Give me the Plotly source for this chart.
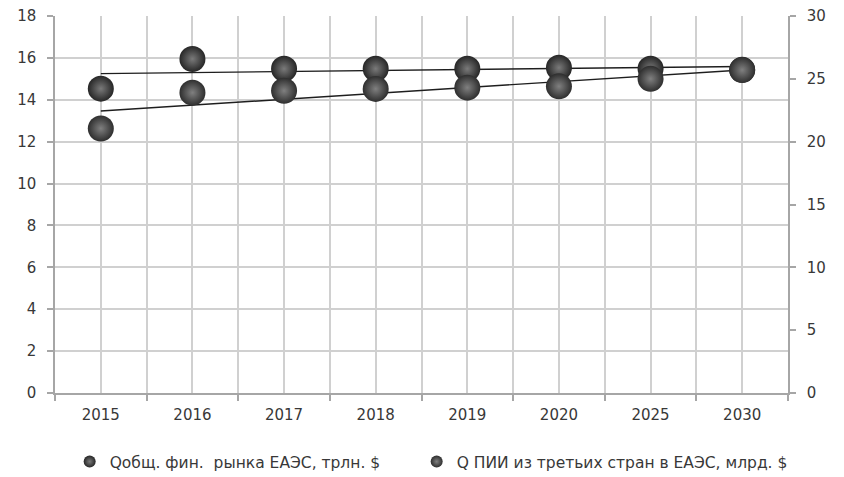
import numpy as np
import plotly.graph_objects as go

# Categories (years)
years = ["2015", "2016", "2017", "2018", "2019", "2020", "2025", "2030"]

# Q общ. фин. рынка ЕАЭС, трлн. $ (left axis)
fin_market = [14.53, 15.95, 15.48, 15.48, 15.48, 15.53, 15.48, 15.43]

# Q ПИИ из третьих стран в ЕАЭС, млрд. $ (right axis)
fdi = [21.05, 23.9, 24.05, 24.2, 24.3, 24.4, 25.0, 25.7]

name_fin = "Qобщ. фин.\u00a0\u00a0рынка ЕАЭС, трлн. $"
name_fdi = "Q ПИИ из третьих стран в ЕАЭС, млрд. $"

x = np.arange(len(years))

# linear trend for each series
def trend(vals):
    k, b = np.polyfit(x, np.asarray(vals, dtype=float), 1)
    return k * x + b

text_color = "#383838"
grid_color = "#d0d0d0"
axis_color = "#a6a6a6"
font_family = "'DejaVu Sans', sans-serif"

fig = go.Figure()

fig.add_trace(go.Scatter(
    x=x, y=trend(fin_market), mode="lines", showlegend=False, hoverinfo="skip",
    line=dict(color="#1e1e1e", width=1.4), yaxis="y",
))
fig.add_trace(go.Scatter(
    x=x, y=trend(fdi), mode="lines", showlegend=False, hoverinfo="skip",
    line=dict(color="#1e1e1e", width=1.4), yaxis="y2",
))

fig.add_trace(go.Scatter(
    x=x, y=fin_market, mode="markers", name=name_fin, yaxis="y", legend="legend",
    marker=dict(size=26, color="#262626",
                gradient=dict(type="radial", color="#7a7a7a"),
                line=dict(width=0)),
))
fig.add_trace(go.Scatter(
    x=x, y=fdi, mode="markers", name=name_fdi, yaxis="y2", legend="legend2",
    marker=dict(size=26, color="#2e2e2e",
                gradient=dict(type="radial", color="#808080"),
                line=dict(width=0)),
))

legend_style = dict(
    orientation="h", xanchor="left", y=-0.183, yanchor="middle",
    font=dict(size=15.5, color=text_color), itemsizing="constant", itemwidth=30,
)

fig.update_layout(
    width=844, height=477,
    margin=dict(l=55, r=56, t=16, b=84, autoexpand=False),
    paper_bgcolor="white", plot_bgcolor="white",
    font=dict(family=font_family, size=15, color=text_color),
    showlegend=True,
    legend=dict(x=0.02, **legend_style),
    legend2=dict(x=0.4934, **legend_style),
    xaxis=dict(
        range=[-0.5, 7.5], tickvals=list(x), ticktext=years,
        showgrid=True, gridcolor=grid_color, gridwidth=1.5,
        ticks="", showline=True, linecolor=axis_color, linewidth=1.5,
        zeroline=False, tickfont=dict(size=15, color=text_color),
        ticklabelstandoff=7,
        minor=dict(tickvals=[i - 0.5 for i in range(len(years) + 1)],
                   showgrid=True, gridcolor=grid_color, gridwidth=1.5,
                   ticks="outside", ticklen=6, tickcolor=axis_color, tickwidth=1.5),
        fixedrange=True,
    ),
    yaxis=dict(
        range=[0, 18], dtick=2, showgrid=True, gridcolor=grid_color, gridwidth=1.5,
        ticks="outside", ticklen=6, tickcolor=axis_color, tickwidth=1.5,
        showline=True, linecolor=axis_color, linewidth=1.5, zeroline=False,
        tickfont=dict(size=15, color=text_color), ticklabelstandoff=8,
    ),
    yaxis2=dict(
        range=[0, 30], dtick=5, overlaying="y", side="right", showgrid=False,
        ticks="outside", ticklen=6, tickcolor=axis_color, tickwidth=1.5,
        showline=True, linecolor=axis_color, linewidth=1.5, zeroline=False,
        tickfont=dict(size=15, color=text_color), ticklabelstandoff=8,
    ),
)

fig.write_html("out.html")
